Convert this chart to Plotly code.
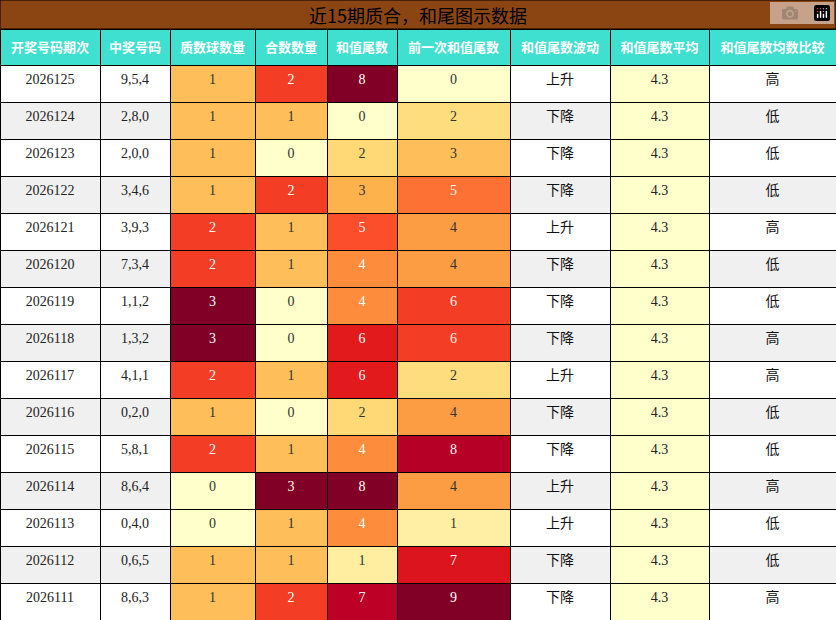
import plotly.graph_objects as go
from plotly.colors import sample_colorscale, sequential

title = "近15期质合，和尾图示数据"
headers = ["开奖号码期次","中奖号码","质数球数量","合数数量","和值尾数","前一次和值尾数","和值尾数波动","和值尾数平均","和值尾数均数比较"]
periods = ["2026125","2026124","2026123","2026122","2026121","2026120","2026119","2026118","2026117","2026116","2026115","2026114","2026113","2026112","2026111"]
numbers = ["9,5,4","2,8,0","2,0,0","3,4,6","3,9,3","7,3,4","1,1,2","1,3,2","4,1,1","0,2,0","5,8,1","8,6,4","0,4,0","0,6,5","8,6,3"]
prime_cnt = [1,1,1,1,2,2,3,3,2,1,2,0,0,1,1]
comp_cnt = [2,1,0,2,1,1,0,0,1,0,1,3,1,1,2]
sum_tail = [8,0,2,3,5,4,4,6,6,2,4,8,4,1,7]
prev_tail = [0,2,3,5,4,4,6,6,2,4,8,4,1,7,9]
trend = ["上升","下降","下降","下降","上升","下降","下降","下降","上升","下降","下降","上升","上升","下降","下降"]
avg = ["4.3"]*15
compare = ["高","低","低","低","高","低","低","高","高","低","低","高","低","低","高"]

def fills(vals):
    m = max(vals)
    return sample_colorscale(sequential.YlOrRd, [v/m for v in vals])
def fcols(vals):
    m = max(vals)
    return ["white" if v/m >= 0.5 else "#333" for v in vals]

alt = ["white" if i % 2 == 0 else "#f0f0f0" for i in range(15)]
fill_cols = [alt, alt, fills(prime_cnt), fills(comp_cnt), fills(sum_tail), fills(prev_tail), alt, ["#ffffcc"]*15, alt]
font_cols = [["#222"]*15, ["#222"]*15, fcols(prime_cnt), fcols(comp_cnt), fcols(sum_tail), fcols(prev_tail), ["#111"]*15, ["#222"]*15, ["#111"]*15]

fig = go.Figure(go.Table(
    columnwidth=[100,70,85,72,70,113,100,99,127],
    header=dict(values=["<b>%s</b>" % h for h in headers], fill_color="#40e0d0", line_color="black",
                font=dict(color="white", size=13, family="Noto Sans CJK SC"),
                align="center", height=36),
    cells=dict(values=[periods, numbers, prime_cnt, comp_cnt, sum_tail, prev_tail, trend, avg, compare],
               fill_color=fill_cols, line_color="black",
               font=dict(color=font_cols, size=14, family="Liberation Serif, Noto Sans CJK SC"),
               align="center", height=37),
    domain=dict(x=[0,1], y=[0, 591/620])
))
fig.add_shape(type="rect", xref="paper", yref="paper", x0=0, x1=1, y0=591/620, y1=1,
              fillcolor="#8b4513", line=dict(color="black", width=1))
fig.add_annotation(text=title, xref="paper", yref="paper", x=0.5, y=605.5/620, yanchor="middle",
                   showarrow=False, font=dict(size=18, color="black", family="Noto Sans CJK SC"))
fig.update_layout(width=836, height=620, margin=dict(l=0, r=0, t=0, b=0), paper_bgcolor="white")
fig.write_html("out.html", post_script="document.body.style.margin='0';document.body.style.overflow='hidden';")
